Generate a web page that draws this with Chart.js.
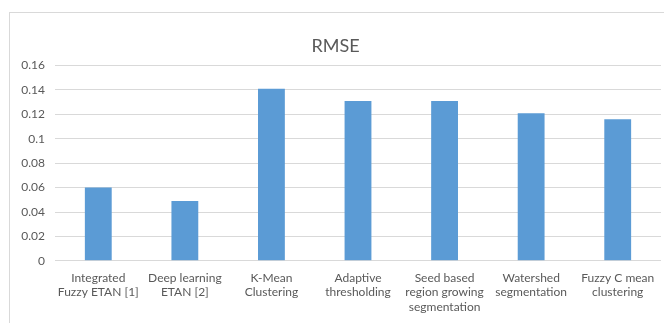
<!DOCTYPE html>
<html>
<head>
<meta charset="utf-8">
<script src="https://cdn.jsdelivr.net/npm/chart.js@4"></script>
<style>
  html, body { margin: 0; padding: 0; background: #fff; }
  body { width: 664px; height: 323px; overflow: hidden; position: relative; }
  #wrap {
    position: absolute; left: 9px; top: 12px;
    width: 655px; height: 311px;
    border-left: 1px solid #d9d9d9; border-top: 1px solid #d9d9d9;
  }
</style>
</head>
<body>
<div id="wrap"><canvas id="chart" width="654" height="310"></canvas></div>
<script>
// Categorii (etichete pe mai multe randuri) si valorile RMSE
var labels = [
  ['Integrated', 'Fuzzy ETAN [1]'],
  ['Deep learning', 'ETAN [2]'],
  ['K-Mean', 'Clustering'],
  ['Adaptive', 'thresholding'],
  ['Seed based', 'region growing', 'segmentation'],
  ['Watershed', 'segmentation'],
  ['Fuzzy C mean', 'clustering']
];
var rmse = [0.060, 0.049, 0.141, 0.131, 0.131, 0.121, 0.116];

var yMax = 0.16;
var yStep = 0.02;

var FONT = "Lato, 'Open Sans', sans-serif";
var TEXT = '#595959';

new Chart(document.getElementById('chart'), {
  type: 'bar',
  data: {
    labels: labels,
    datasets: [{
      label: 'RMSE',
      data: rmse,
      backgroundColor: '#5b9bd5',
      borderWidth: 0,
      categoryPercentage: 1,
      barPercentage: 0.31
    }]
  },
  options: {
    responsive: false,
    animation: false,
    layout: { padding: { left: 0, right: 3, top: 0, bottom: 7 } },
    plugins: {
      legend: { display: false },
      tooltip: { enabled: false },
      title: {
        display: true,
        text: 'RMSE',
        color: TEXT,
        font: { family: FONT, size: 18, weight: 'normal' },
        padding: { top: 22, bottom: 9 }
      }
    },
    scales: {
      x: {
        grid: { display: false },
        border: { display: false },
        ticks: {
          color: TEXT,
          font: { family: FONT, size: 12 },
          padding: 2,
          maxRotation: 0,
          autoSkip: false
        }
      },
      y: {
        min: 0,
        max: yMax,
        afterFit: function (s) { s.width = 45; },
        grid: { color: '#d9d9d9', drawTicks: false },
        border: { display: false },
        ticks: {
          stepSize: yStep,
          color: TEXT,
          font: { family: FONT, size: 12 },
          padding: 10,
          callback: function (v) { return String(+v.toFixed(2)); }
        }
      }
    }
  }
});
</script>
</body>
</html>
